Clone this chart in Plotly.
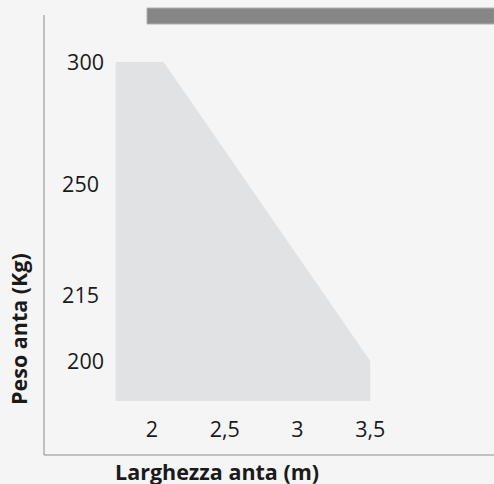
import numpy as np
import plotly.graph_objects as go

# Door leaf width (m) vs. maximum leaf weight (kg) operating area
width_m = [1.75, 2.08, 3.5, 3.5, 1.75]
weight_kg = [300, 300, 200, 190, 190]

x_ticks = [2, 2.5, 3, 3.5]
x_tick_text = ["2", "2,5", "3", "3,5"]
y_ticks_outer = [300, 200]
y_ticks_inner = [250, 215]

# Piecewise weight scale: kg -> vertical axis units (px above the baseline)
SCALE_KG = [190, 200, 215, 250, 300]
SCALE_POS = [54, 94, 159.5, 271, 393]


def kg_pos(v):
    return np.interp(v, SCALE_KG, SCALE_POS)


W, H = 494, 484
ML, MR, MT, MB = 44, 0, 15, 29
PW, PH = W - ML - MR, H - MT - MB

px_per_m = 145.5
x_lo = 2 - (152 - ML) / px_per_m
x_hi = x_lo + PW / px_per_m

FONT = "Open Sans"
TXT = "#1a1a1a"
LINE = "#8c8c8c"

fig = go.Figure()
fig.add_trace(go.Scatter(
    x=width_m, y=kg_pos(weight_kg), mode="lines", fill="toself",
    fillcolor="#e1e2e4", line=dict(width=0, color="#e1e2e4"),
    hoverinfo="skip", showlegend=False,
))
# invisible carrier for the second weight axis
fig.add_trace(go.Scatter(x=[None], y=[None], yaxis="y2", showlegend=False))

tick_font = dict(family=FONT, size=21.5, color=TXT)

fig.update_layout(
    width=W, height=H,
    margin=dict(l=ML, r=MR, t=MT, b=MB),
    paper_bgcolor="#f5f5f5", plot_bgcolor="#f5f5f5",
    xaxis=dict(
        range=[x_lo, x_hi], anchor="free", position=41 / PH,
        tickvals=x_ticks, ticktext=x_tick_text, tickfont=tick_font,
        showgrid=False, zeroline=False, showline=False, ticks="",
    ),
    yaxis=dict(
        range=[0, PH], anchor="free", position=(104 - ML) / PW,
        tickvals=kg_pos(y_ticks_outer).tolist(),
        ticktext=[str(v) for v in y_ticks_outer], tickfont=tick_font,
        showgrid=False, zeroline=False, showline=False, ticks="",
    ),
    yaxis2=dict(
        range=[0, PH], overlaying="y", anchor="free", position=(99 - ML) / PW,
        tickvals=kg_pos(y_ticks_inner).tolist(),
        ticktext=[str(v) for v in y_ticks_inner], tickfont=tick_font,
        showgrid=False, zeroline=False, showline=False, ticks="",
    ),
    shapes=[
        dict(type="line", xref="paper", yref="paper", x0=0, x1=0, y0=0, y1=1,
             line=dict(color=LINE, width=1)),
        dict(type="line", xref="paper", yref="paper", x0=0, x1=1, y0=0, y1=0,
             line=dict(color=LINE, width=1)),
        dict(type="rect", xref="paper", yref="paper",
             x0=(147 - ML) / PW, x1=1.01,
             y0=(H - MB - 24) / PH, y1=(H - MB - 8) / PH,
             fillcolor="#868686", line=dict(color="#b0b0b0", width=1)),
    ],
    annotations=[
        dict(text="Larghezza anta (m)", xref="paper", yref="paper",
             x=(216.5 - ML) / PW, y=(H - MB - 471) / PH,
             xanchor="center", yanchor="middle", showarrow=False,
             font=dict(family=FONT, size=21.5, color=TXT, weight="bold")),
        dict(text="Peso anta (Kg)", xref="paper", yref="paper",
             x=(18 - ML) / PW, y=(H - MB - 329) / PH, textangle=-90,
             xanchor="center", yanchor="middle", showarrow=False,
             font=dict(family=FONT, size=21.5, color=TXT, weight="bold")),
    ],
)

fig.write_html("out.html")
